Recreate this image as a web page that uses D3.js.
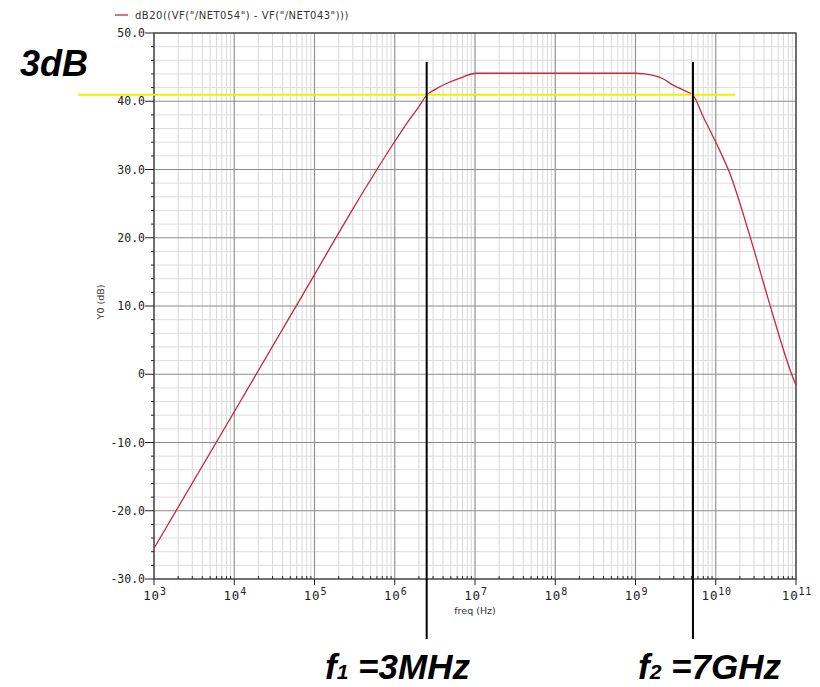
<!DOCTYPE html>
<html>
<head>
<meta charset="utf-8">
<script src="https://cdn.jsdelivr.net/npm/d3@7"></script>
<style>
  html, body { margin: 0; padding: 0; background: #fff; }
  svg { display: block; }
</style>
</head>
<body>
<svg id="chart" width="820" height="687"></svg>
<script>
// ---------- data ----------
const freqHz = [1e3, 1e4, 1e5, 3e5, 6e5, 1e6, 1.5e6, 2e6, 2.5e6, 3.16e6, 4.4e6, 6.5e6, 1.05e7, 1e8, 1e9, 1.3e9, 1.65e9, 2.2e9, 2.9e9, 4e9, 5.2e9, 7e9, 1.02e10, 1.5e10, 2.67e10, 4.75e10, 8.83e10, 1e11];
const gainDb = [-25.5, -5.5, 14.6, 24.2, 30.0, 34.1, 37.2, 39.2, 40.9, 41.7, 42.6, 43.4, 44.1, 44.1, 44.1, 44.0, 43.8, 43.3, 42.4, 41.6, 40.9, 37.7, 33.8, 29.4, 20.2, 10.1, 0.0, -1.6];

const yTickValues = [50, 40, 30, 20, 10, 0, -10, -20, -30];
const yTickLabels = ["50.0", "40.0", "30.0", "20.0", "10.0", "0", "-10.0", "-20.0", "-30.0"];
const xDecadeExponents = [3, 4, 5, 6, 7, 8, 9, 10, 11];

const legendLabel = 'dB20((VF("/NET054") - VF("/NET043")))';
const xTitle = "freq (Hz)";
const yTitle = "Y0 (dB)";

// annotations
const threeDbLevel = 40.95;
const threeDbSpanHz = [112, 1.74e10];
const cutoffFreqHz = [2.5e6, 5.2e9];
const markerDbRange = [45.75, -38.8];
const cutoffSubs = ["1", "2"];
const cutoffValues = [" =3MHz", " =7GHz"];
const threeDbText = "3dB";

// ---------- layout ----------
const svg = d3.select("#chart");
const plot = { left: 154, right: 796, top: 33, bottom: 579 };

const x = d3.scaleLog().domain([1e3, 1e11]).range([plot.left, plot.right]);
const y = d3.scaleLinear().domain([-30, 50]).range([plot.bottom, plot.top]);

// gridlines
const minorX = [];
for (let e = 3; e < 11; e++) for (let m = 2; m <= 9; m++) minorX.push(m * Math.pow(10, e));
const minorY = d3.range(-30, 50.001, 2).filter(v => v % 10 !== 0);

const grid = svg.append("g");
grid.selectAll(".mx").data(minorX).join("line")
  .attr("x1", d => x(d)).attr("x2", d => x(d))
  .attr("y1", plot.top).attr("y2", plot.bottom)
  .attr("stroke", "#d9d9d9").attr("stroke-width", 1);
grid.selectAll(".my").data(minorY).join("line")
  .attr("x1", plot.left).attr("x2", plot.right)
  .attr("y1", d => y(d)).attr("y2", d => y(d))
  .attr("stroke", "#dcdcdc").attr("stroke-width", 1);
grid.selectAll(".MX").data(xDecadeExponents).join("line")
  .attr("x1", d => x(Math.pow(10, d))).attr("x2", d => x(Math.pow(10, d)))
  .attr("y1", plot.top).attr("y2", plot.bottom)
  .attr("stroke", "#939393").attr("stroke-width", 1.2);
grid.selectAll(".MY").data(yTickValues).join("line")
  .attr("x1", plot.left).attr("x2", plot.right)
  .attr("y1", d => y(d)).attr("y2", d => y(d))
  .attr("stroke", "#8c8c8c").attr("stroke-width", 1.2);

// frame
svg.append("rect")
  .attr("x", plot.left).attr("y", plot.top)
  .attr("width", plot.right - plot.left).attr("height", plot.bottom - plot.top)
  .attr("fill", "none").attr("stroke", "#444").attr("stroke-width", 1.3);

// y axis ticks & labels
const yAxis = svg.append("g");
yAxis.selectAll(".ymt").data(minorY).join("line")
  .attr("x1", plot.left - 3).attr("x2", plot.left)
  .attr("y1", d => y(d)).attr("y2", d => y(d))
  .attr("stroke", "#222");
yAxis.selectAll(".yMt").data(yTickValues).join("line")
  .attr("x1", plot.left - 9).attr("x2", plot.left)
  .attr("y1", d => y(d)).attr("y2", d => y(d))
  .attr("stroke", "#222");
yAxis.selectAll("text").data(yTickValues).join("text")
  .attr("x", plot.left - 9).attr("y", d => y(d) + 4)
  .attr("text-anchor", "end")
  .attr("font-family", "DejaVu Sans Mono, monospace").attr("font-size", 11.5)
  .attr("fill", "#222")
  .text((d, i) => yTickLabels[i]);

// x axis ticks & labels
const xAxis = svg.append("g");
xAxis.selectAll(".xmt").data(minorX).join("line")
  .attr("x1", d => x(d)).attr("x2", d => x(d))
  .attr("y1", plot.bottom - 3).attr("y2", plot.bottom)
  .attr("stroke", "#222");
xAxis.selectAll(".xMt").data(xDecadeExponents).join("line")
  .attr("x1", d => x(Math.pow(10, d))).attr("x2", d => x(Math.pow(10, d)))
  .attr("y1", plot.bottom).attr("y2", plot.bottom + 6)
  .attr("stroke", "#222");
const xl = xAxis.selectAll(".xl").data(xDecadeExponents).join("text")
  .attr("x", d => x(Math.pow(10, d)) + 1).attr("y", plot.bottom + 21)
  .attr("text-anchor", "middle")
  .attr("font-family", "DejaVu Sans Mono, monospace").attr("font-size", 12.5)
  .attr("letter-spacing", 0.8)
  .attr("fill", "#222");
xl.append("tspan").text("10");
xl.append("tspan").attr("dy", -5).attr("font-size", 10).text(d => String(d));

// axis titles
svg.append("text")
  .attr("x", x(Math.sqrt(1e3 * 1e11))).attr("y", plot.bottom + 35)
  .attr("text-anchor", "middle")
  .attr("font-family", "DejaVu Sans, sans-serif").attr("font-size", 9.5)
  .attr("fill", "#333").text(xTitle);
svg.append("text")
  .attr("transform", `translate(104, ${y(10) - 4}) rotate(-90)`)
  .attr("text-anchor", "middle")
  .attr("font-family", "DejaVu Sans, sans-serif").attr("font-size", 9.5)
  .attr("fill", "#333").text(yTitle);

// legend
svg.append("line")
  .attr("x1", 115).attr("x2", 128).attr("y1", 15).attr("y2", 15)
  .attr("stroke", "#c8283c").attr("stroke-width", 1.3);
svg.append("text")
  .attr("x", 135).attr("y", 19)
  .attr("font-family", "DejaVu Sans, sans-serif").attr("font-size", 10)
  .attr("letter-spacing", 0.5)
  .attr("fill", "#333").text(legendLabel);

// curve
const pts = freqHz.map((f, i) => [f, gainDb[i]]);
svg.append("path")
  .datum(pts)
  .attr("d", d3.line().x(d => x(d[0])).y(d => y(d[1])).curve(d3.curveMonotoneX))
  .attr("fill", "none").attr("stroke", "#c8283c").attr("stroke-width", 1.3);

// 3dB line
svg.append("line")
  .attr("x1", x(threeDbSpanHz[0])).attr("x2", x(threeDbSpanHz[1]))
  .attr("y1", y(threeDbLevel)).attr("y2", y(threeDbLevel))
  .attr("stroke", "#f5ec00").attr("stroke-width", 2);

// cutoff markers
svg.selectAll(".cut").data(cutoffFreqHz).join("line")
  .attr("x1", d => x(d)).attr("x2", d => x(d))
  .attr("y1", y(markerDbRange[0])).attr("y2", y(markerDbRange[1]))
  .attr("stroke", "#000").attr("stroke-width", 2);

// annotation texts
svg.append("text")
  .attr("x", 20).attr("y", 76)
  .attr("font-family", "Liberation Sans, Arial, sans-serif")
  .attr("font-weight", "bold").attr("font-style", "italic")
  .attr("font-size", 36).attr("fill", "#000").text(threeDbText);

const labelStartX = [325, 638];
const cutLabels = svg.selectAll(".cutlbl").data(cutoffFreqHz).join("text")
  .attr("x", (d, i) => labelStartX[i]).attr("y", 679)
  .attr("font-family", "Liberation Sans, Arial, sans-serif")
  .attr("font-weight", "bold").attr("font-style", "italic")
  .attr("font-size", 35).attr("fill", "#000");
cutLabels.append("tspan").text("f");
cutLabels.append("tspan").attr("font-size", 21).text((d, i) => cutoffSubs[i]);
cutLabels.append("tspan").text((d, i) => cutoffValues[i]);
</script>
</body>
</html>
